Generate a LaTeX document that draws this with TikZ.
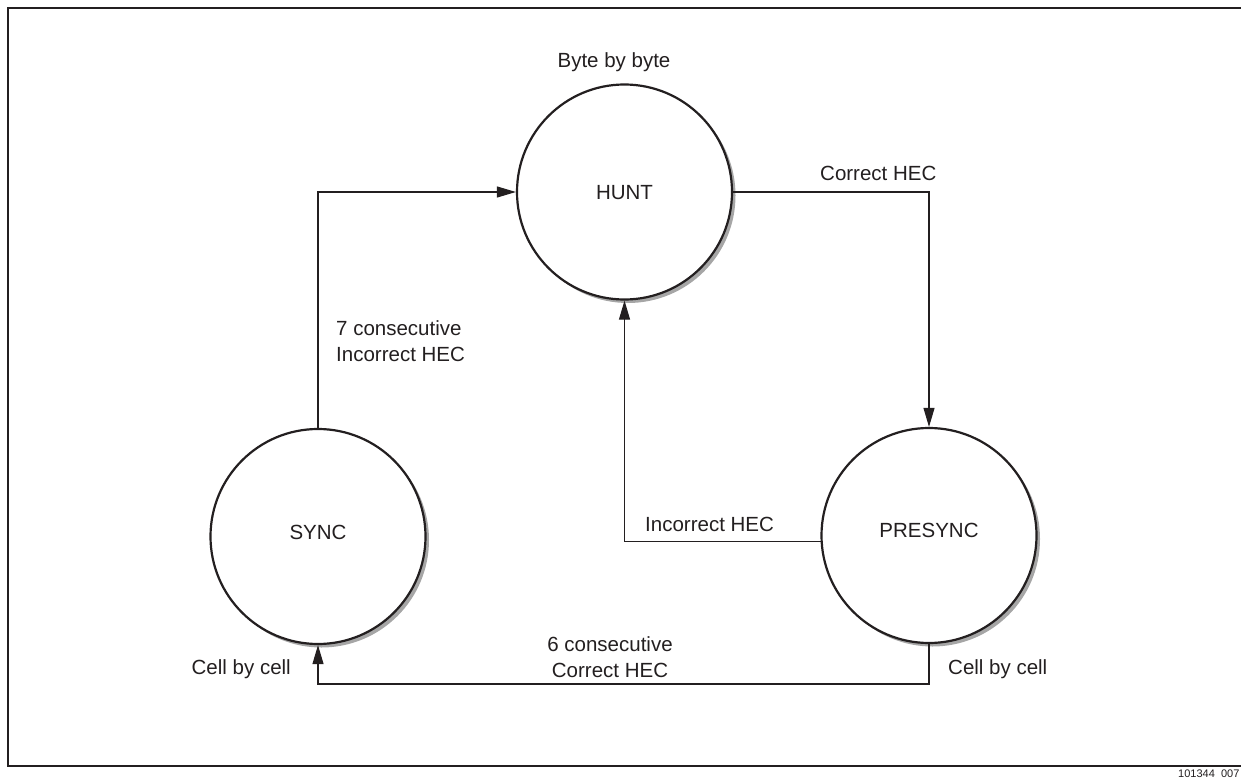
\documentclass[tikz,border=0pt]{standalone}
\usepackage{fontspec}
\setmainfont{Liberation Sans}
\usetikzlibrary{arrows.meta,shadows}
\definecolor{ink}{HTML}{231F20}
\begin{document}
\begin{tikzpicture}[x=1pt,y=-1pt,
  state/.style={circle, draw=ink, line width=2.2pt, fill=white,
    minimum size=215pt, inner sep=0pt, text=ink,
    font=\fontsize{20.5}{25}\selectfont, text height=14.7pt,
    general shadow={fill=black!35, shadow xshift=3.5pt, shadow yshift=-3.5pt}},
  conn/.style={draw=ink, line width=1.1pt, -{Triangle[length=19pt,width=11pt]}},
  tag/.style={inner sep=0pt, text=ink, font=\fontsize{20.5}{26}\selectfont},
]
\useasboundingbox (0,0) rectangle (1241,778);
\clip (0,0) rectangle (1241,778);

% outer frame (open past the right edge)
\draw[ink, line width=2pt] (8,8) rectangle (1270,766);

% states
\node[state, text depth=0pt]  (hunt)    at (624.5,192)   {HUNT};
\node[state, text depth=8pt]  (sync)    at (318,536.5)   {SYNC};
\node[state, text depth=10pt] (presync) at (929,535.5)   {PRESYNC};

% transitions
\draw[conn] (sync.north) |- (hunt.west);
\draw[conn] (hunt.east) -| (presync.north);
\draw[conn] (presync.183.5) -| (hunt.south);
\coordinate (low) at (0,684);
\draw[conn] (presync.south) -- (presync.south |- low) -- (sync.south |- low) -- (sync.south);

% annotations (multi-line ones are placed by their last baseline)
\node[tag, anchor=base] (byte) at (614,68) {Byte by byte};
\node[tag, anchor=base west, align=left] (seven) at (336,361) {7 consecutive\\Incorrect HEC};
\node[tag, anchor=base west] (correct) at (820,180.5) {Correct HEC};
\node[tag, anchor=base west] (incorrect) at (645,531) {Incorrect HEC};
\node[tag, anchor=base, align=center] (six) at (610,677) {6 consecutive\\Correct HEC};
\node[tag, anchor=base east] (cellL) at (291,674) {Cell by cell};
\node[tag, anchor=base west] (cellR) at (948,674) {Cell by cell};
\node[inner sep=0pt, anchor=base west, text=ink, font=\fontsize{11}{13}\selectfont] (code) at (1178,777.5) {101344\_007};
\end{tikzpicture}
\end{document}
